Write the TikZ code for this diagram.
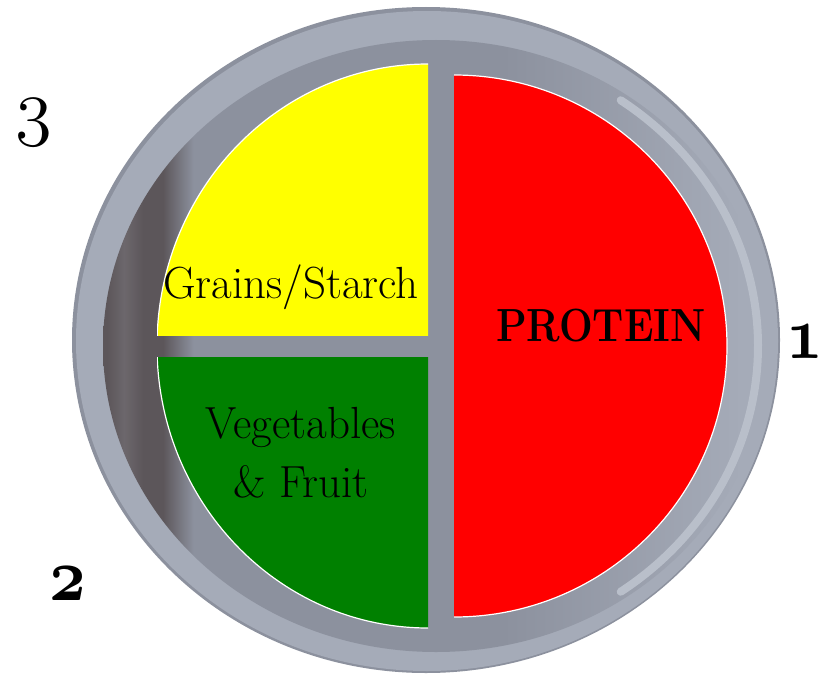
\RequirePackage{fix-cm}
\documentclass[tikz,border=0pt]{standalone}
\definecolor{rimedge}{HTML}{8C919E}
\definecolor{rim}{HTML}{A5ABB8}
\definecolor{rimhi}{HTML}{B9BFCA}
\definecolor{wdark}{HTML}{5C565A}
\definecolor{wmid}{HTML}{6C676C}
\definecolor{wgray}{HTML}{8C919E}
\definecolor{yel}{HTML}{FFFF00}
\definecolor{grn}{HTML}{008000}
\definecolor{rd}{HTML}{FF0000}
\pgfdeclarehorizontalshading{wellsh}{100bp}{color(0bp)=(wdark); color(25.3bp)=(wdark); color(26.6bp)=(wmid); color(28bp)=(wdark); color(29.5bp)=(wdark); color(31.8bp)=(wgray); color(55bp)=(wgray); color(73bp)=(rim); color(100bp)=(rim)}
\begin{document}
\begin{tikzpicture}[x=1pt,y=-1pt,
  lbl/.style={inner sep=0pt, outer sep=0pt, text=black, anchor=base},
  foodtxt/.style={lbl, font=\fontsize{45}{54}\selectfont},
  numtxt/.style={lbl, font=\fontsize{75}{80}\usefont{OML}{cmm}{m}{it}},
  numbold/.style={lbl, font=\fontsize{75}{80}\usefont{OML}{cmm}{b}{it}},
  edge/.style={draw=white, line width=1.2pt}]
\useasboundingbox (0,0) rectangle (827,677);
\fill[white] (0,0) rectangle (827,677);
% plate rim
\fill[rimedge] (426,340) ellipse [x radius=354pt, y radius=333pt];
\fill[rim] (427,341) ellipse [x radius=351pt, y radius=330pt];
% well
\shade[shading=wellsh] (436,346) ellipse [x radius=333pt, y radius=306pt];
% right rim highlight
\draw[rimhi, line width=8pt, line cap=round] (436,346) ++(-55:322pt and 300pt) arc[start angle=-55, end angle=55, x radius=322pt, y radius=300pt];
% food sections
\begin{scope}
  \clip (157,55) rectangle (428,335);
  \fill[yel] (428,346) ellipse [x radius=271pt, y radius=282pt];
  \draw[edge] (428,346) ellipse [x radius=271pt, y radius=282pt];
\end{scope}
\begin{scope}
  \clip (157,357) rectangle (428,640);
  \fill[grn] (428,346) ellipse [x radius=271pt, y radius=282pt];
  \draw[edge] (428,346) ellipse [x radius=271pt, y radius=282pt];
\end{scope}
\begin{scope}
  \clip (454,60) rectangle (740,630);
  \fill[rd] (454,346) ellipse [x radius=273pt, y radius=271pt];
  \draw[edge] (454,346) ellipse [x radius=273pt, y radius=271pt];
\end{scope}
% labels
\node[foodtxt, anchor=base west] (grains) at (163,298) {Grains/Starch};
\node[foodtxt, anchor=base west, font=\fontsize{46.5}{56}\selectfont\bfseries] (protein) at (496,341) {\scalebox{0.86}[1]{PROTEIN}};
\node[foodtxt] (veg) at (301,438) {Vegetables};
\node[foodtxt] (fruit) at (301,497) {\& Fruit};
\node[numtxt] (three) at (34,131) {3};
\node[numbold] (one) at (805,358) {\scalebox{0.85}[1]{1}};
\node[numbold] (two) at (68,600) {\scalebox{0.85}[1]{2}};
\end{tikzpicture}
\end{document}
